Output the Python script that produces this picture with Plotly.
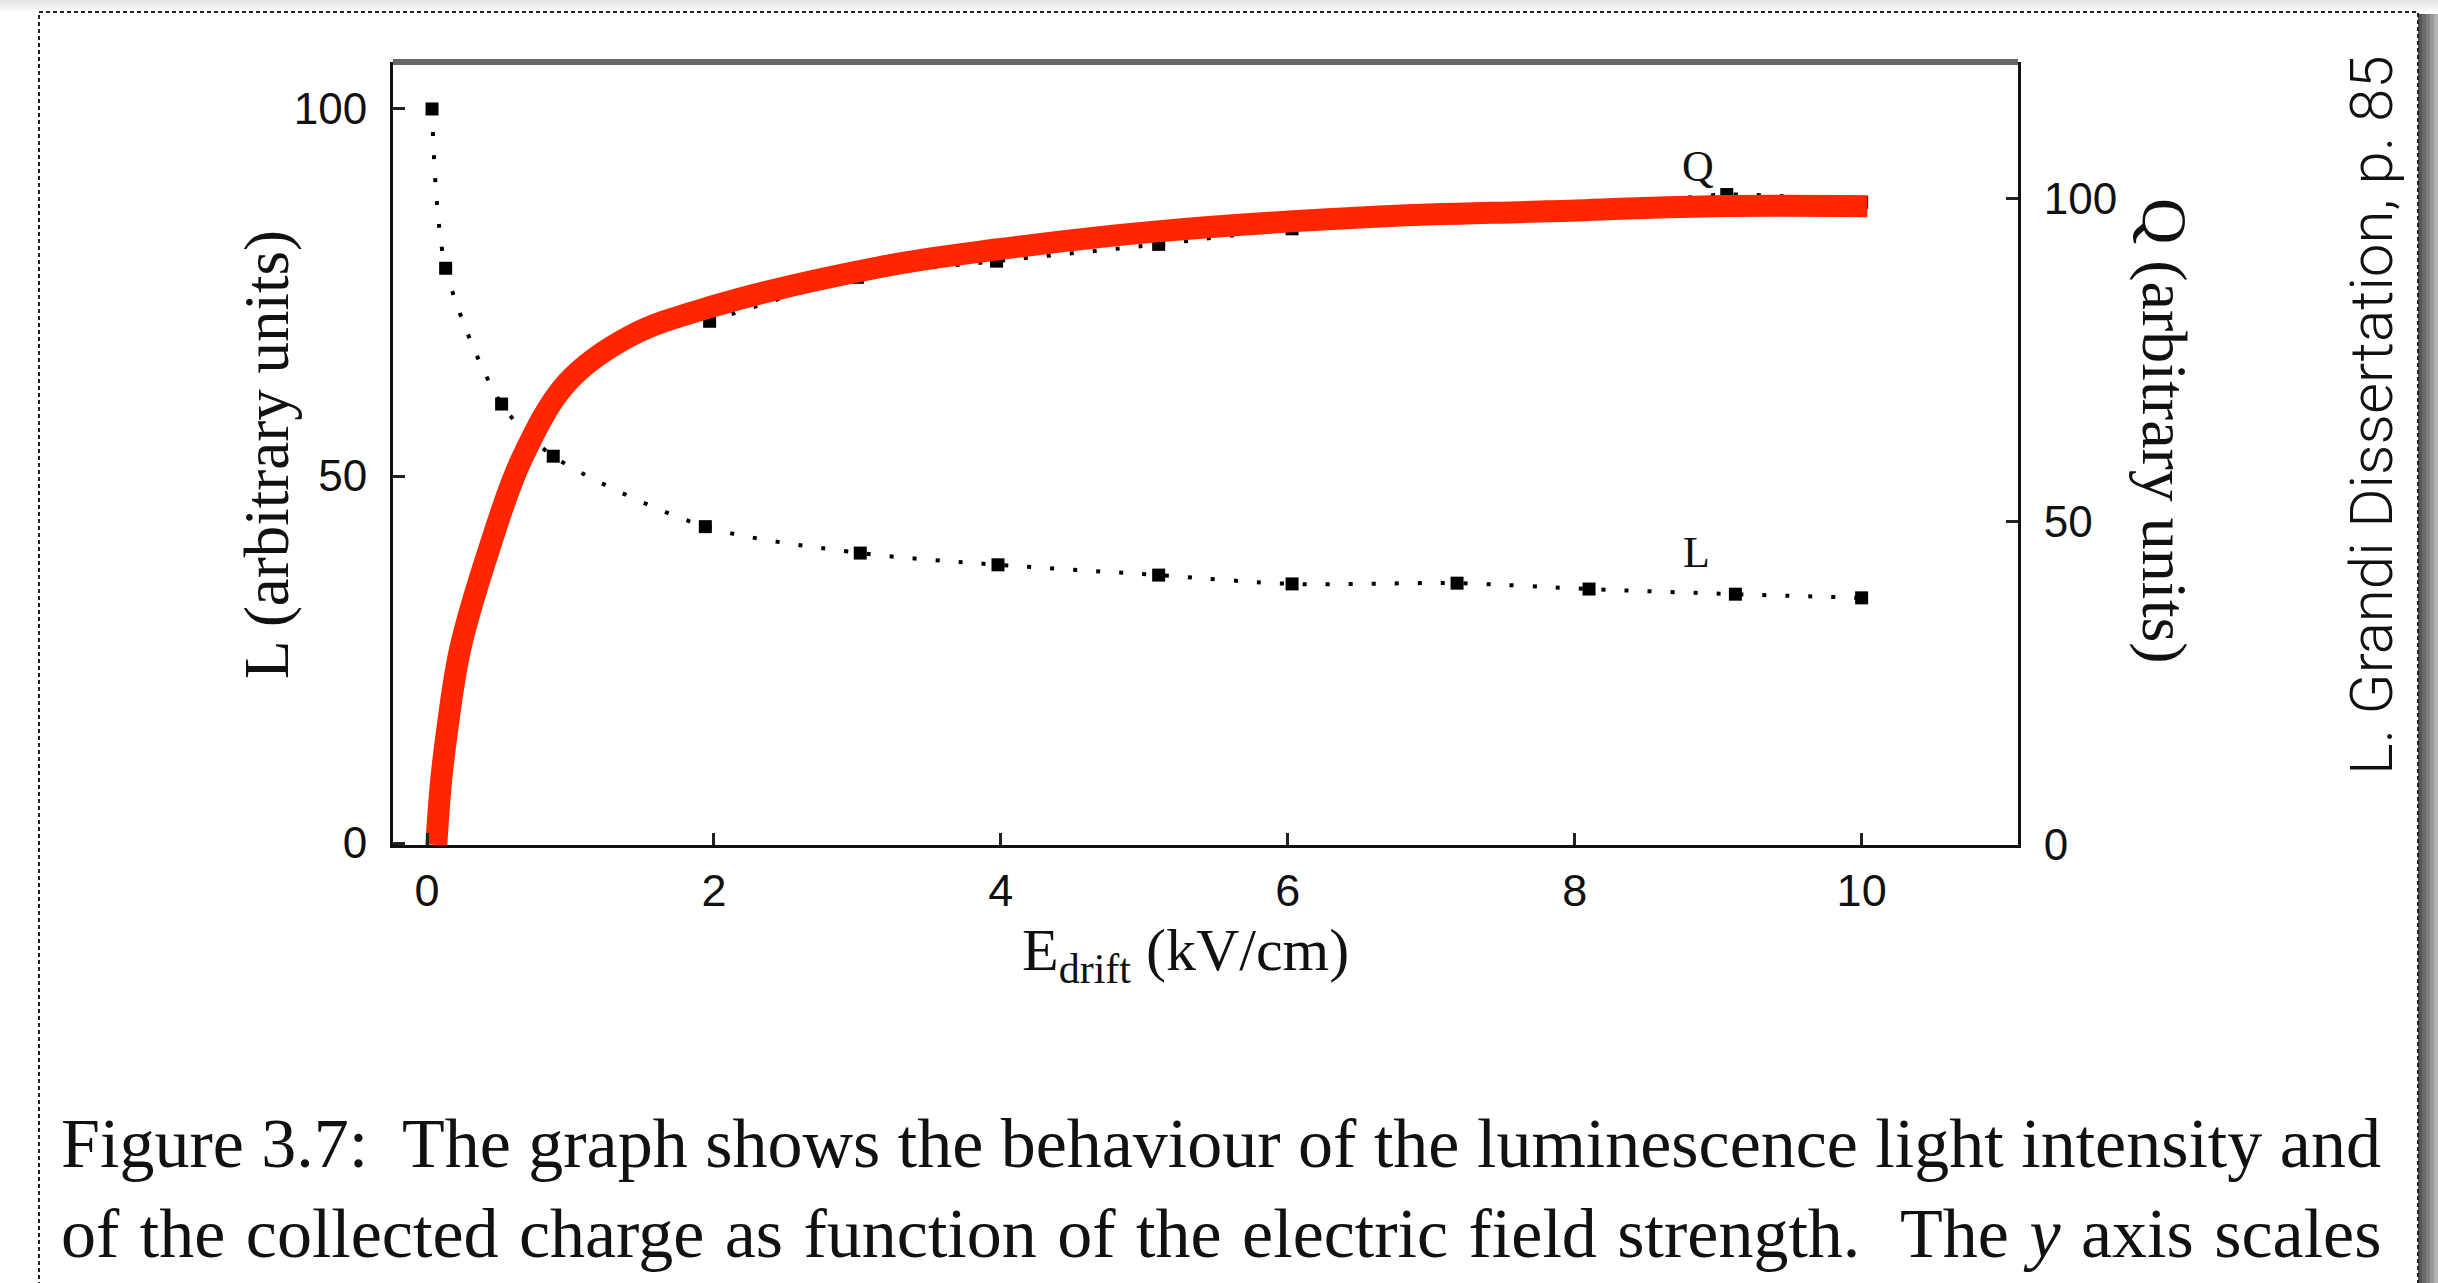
import plotly.graph_objects as go

# ---------------- data ----------------
x_L = [0.035, 0.13, 0.52, 0.88, 1.94, 3.02, 3.98, 5.10, 6.03, 7.18, 8.10, 9.12, 10.0]
L_vals = [100.0, 78.3, 59.8, 52.7, 43.1, 39.5, 37.9, 36.5, 35.3, 35.4, 34.6, 33.9, 33.4]

x_Q = [1.97, 3.00, 3.97, 5.10, 6.03, 7.18, 8.10, 9.06, 10.0]
Q_vals = [81.0, 87.8, 90.3, 92.9, 95.3, 97.0, 98.3, 100.6, 99.4]

x_red = [0.065, 0.08, 0.10, 0.139, 0.23, 0.432, 0.66, 0.976, 1.415, 1.99, 3.16, 3.97, 5.09, 6.64, 7.8, 8.96, 10.04]
Q_red = [0.0, 5.0, 10.3, 17.5, 30.2, 45.7, 59.7, 71.5, 78.7, 83.3, 89.4, 92.1, 94.9, 97.2, 98.0, 98.8, 98.8]

x_ticks = [0, 2, 4, 6, 8, 10]
y_ticks = [0, 50, 100]
q_ticks = [0, 50, 100]

caption_1 = "Figure 3.7:  The graph shows the behaviour of the luminescence light intensity and"
caption_2 = "of the collected charge as function of the electric field strength.  The <i>y</i> axis scales"
side_note = "L. Grandi Dissertation, p. 85"

# ---------------- geometry helpers (pixel -> paper) ----------------
W, H = 2438, 1283
PL, PR, PT, PB = 393, 2018, 62, 845


def px_x(p):
    return (p - PL) / (PR - PL)


def px_y(p):
    return (PB - p) / (PB - PT)


SERIF = "Liberation Serif, Times New Roman, serif"
SANS = "Liberation Sans, Arial, sans-serif"

fig = go.Figure()

# Q data (dotted) underneath
fig.add_trace(go.Scatter(
    x=x_Q, y=Q_vals, yaxis="y2", mode="lines+markers",
    line=dict(color="black", width=4, dash="4px,19px", shape="spline", smoothing=0.8),
    marker=dict(symbol="square", size=13, color="black"),
    showlegend=False, hoverinfo="skip"))

# L data (dotted)
fig.add_trace(go.Scatter(
    x=x_L, y=L_vals, mode="lines+markers",
    line=dict(color="black", width=4, dash="4px,19px", shape="spline", smoothing=0.8),
    marker=dict(symbol="square", size=13, color="black"),
    showlegend=False, hoverinfo="skip"))

# red hand-drawn Q curve
fig.add_trace(go.Scatter(
    x=x_red, y=Q_red, yaxis="y2", mode="lines",
    line=dict(color="#FF2600", width=22, shape="spline", smoothing=1.0),
    showlegend=False, hoverinfo="skip"))

axis_common = dict(
    showgrid=False, zeroline=False, showline=True, linecolor="#111", linewidth=3,
    ticks="inside", ticklen=12, tickwidth=3, tickcolor="#222",
)

fig.update_layout(
    width=W, height=H,
    margin=dict(l=PL, r=W - PR, t=PT, b=H - PB, pad=0),
    paper_bgcolor="white", plot_bgcolor="white",
    xaxis=dict(range=[-0.237, 11.09], tickvals=x_ticks, ticktext=[str(v) for v in x_ticks],
               tickfont=dict(family=SANS, size=45, color="#111"), ticklabelstandoff=4,
               **axis_common),
    yaxis=dict(range=[-0.27, 106.4], tickvals=y_ticks, ticktext=[str(v) for v in y_ticks],
               tickfont=dict(family=SANS, size=44, color="#111"), ticklabelstandoff=14,
               **axis_common),
    yaxis2=dict(range=[0, 121.1], tickvals=q_ticks, ticktext=[str(v) for v in q_ticks],
                overlaying="y", side="right",
                tickfont=dict(family=SANS, size=44, color="#111"), ticklabelstandoff=14,
                **axis_common),
)

shapes = []
# top frame (grey, thicker)
shapes.append(dict(type="line", xref="paper", yref="paper", x0=0, x1=1, y0=1, y1=1,
                   line=dict(color="#666", width=6)))
# top shadow of the page
for i, c in enumerate(["#e4e4e4", "#ececec", "#f3f3f3", "#f9f9f9"]):
    shapes.append(dict(type="rect", xref="paper", yref="paper",
                       x0=px_x(0), x1=px_x(W), y0=px_y(i * 3), y1=px_y(i * 3 + 3),
                       line=dict(width=0), fillcolor=c, layer="below"))
# right shadow
for i, c in enumerate(["#555", "#6a6a6a", "#808080", "#999", "#b3b3b3"]):
    shapes.append(dict(type="rect", xref="paper", yref="paper",
                       x0=px_x(2418 + i * 4), x1=px_x(2422 + i * 4), y0=px_y(H + 20), y1=px_y(14),
                       line=dict(width=0), fillcolor=c, layer="below"))
# dotted page border
shapes.append(dict(type="rect", xref="paper", yref="paper",
                   x0=px_x(39), x1=px_x(2418), y0=px_y(H + 30), y1=px_y(12),
                   line=dict(color="#222", width=2, dash="4px,3px"), fillcolor="rgba(0,0,0,0)"))
fig.update_layout(shapes=shapes)

ann = []
# axis titles
ann.append(dict(xref="paper", yref="paper", x=px_x(1185), y=px_y(955),
                text="E<sub>drift</sub> (kV/cm)", showarrow=False,
                font=dict(family=SERIF, size=60, color="#111"), xanchor="center", yanchor="middle"))
ann.append(dict(xref="paper", yref="paper", x=px_x(267), y=px_y(455),
                text="L (arbitrary units)", showarrow=False, textangle=-90,
                font=dict(family=SERIF, size=63, color="#111"), xanchor="center", yanchor="middle"))
ann.append(dict(xref="paper", yref="paper", x=px_x(2165), y=px_y(431),
                text="Q (arbitrary units)", showarrow=False, textangle=90,
                font=dict(family=SERIF, size=64, color="#111"), xanchor="center", yanchor="middle"))
# curve labels
ann.append(dict(x=8.86, y=104.9, yref="y2", xref="x", text="Q", showarrow=False,
                font=dict(family=SERIF, size=44, color="#111")))
ann.append(dict(x=8.85, y=39.6, xref="x", yref="y", text="L", showarrow=False,
                font=dict(family=SERIF, size=44, color="#111")))
# side note
ann.append(dict(xref="paper", yref="paper", x=px_x(2371), y=px_y(416),
                text=side_note, showarrow=False, textangle=-90,
                font=dict(family="Roboto, Liberation Sans, Arial", size=60, color="#111", weight=300),
                xanchor="center", yanchor="middle"))
# caption
ann.append(dict(xref="paper", yref="paper", x=px_x(59), y=px_y(1143),
                text=caption_1, showarrow=False,
                font=dict(family=SERIF, size=70, color="#111"), xanchor="left", yanchor="middle"))
ann.append(dict(xref="paper", yref="paper", x=px_x(59), y=px_y(1233),
                text='<span style="word-spacing:3px">' + caption_2 + '</span>', showarrow=False,
                font=dict(family=SERIF, size=70, color="#111"), xanchor="left", yanchor="middle"))
fig.update_layout(annotations=ann)

fig.write_html("out.html")
